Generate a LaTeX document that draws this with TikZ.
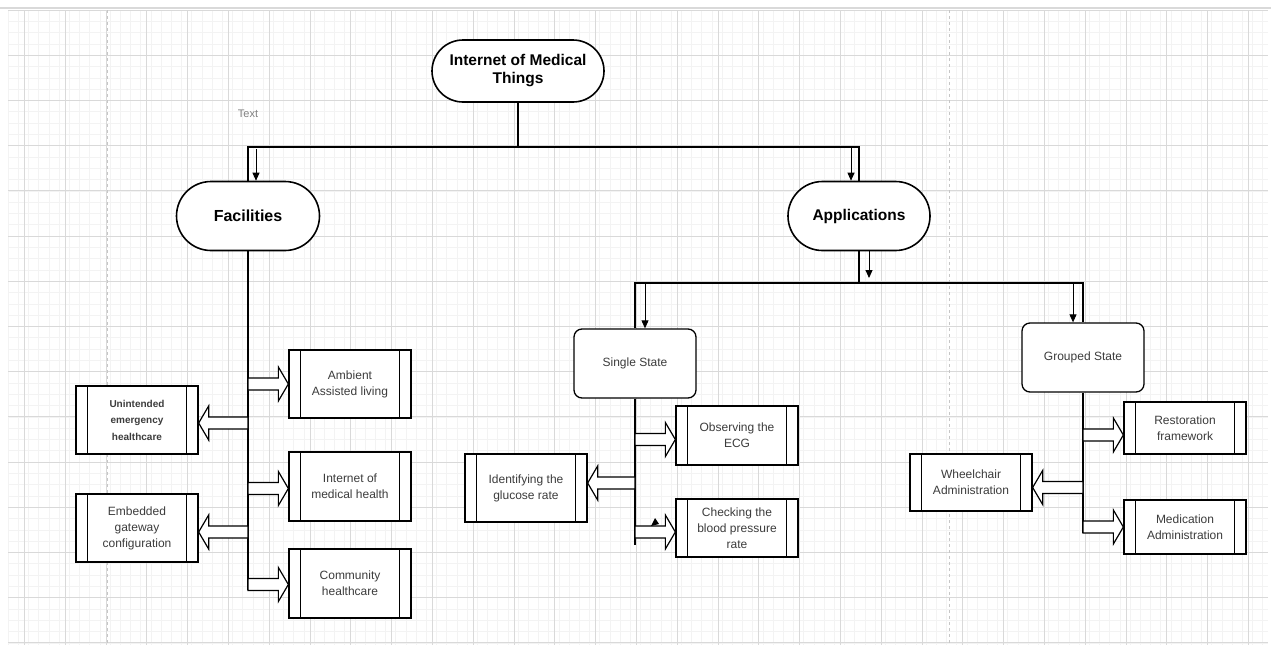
\documentclass[tikz,border=0pt]{standalone}
\usepackage{fontspec}
\setmainfont{Liberation Sans}
\usetikzlibrary{shapes.misc,arrows.meta,calc}

\definecolor{txtgray}{HTML}{3C3C3C}
\definecolor{majgrid}{HTML}{D9D9D9}
\definecolor{mingrid}{HTML}{F3F3F3}

\tikzset{
  pill/.style={draw, rounded rectangle, line width=1.6pt, fill=white, inner sep=0pt,
    font=\bfseries\fontsize{15.5}{18}\selectfont, align=center},
  statebox/.style={draw, rounded corners=8pt, line width=1.3pt, fill=white,
    minimum width=122pt, minimum height=69pt, inner sep=0pt,
    font=\fontsize{12}{16}\selectfont, text=txtgray, align=center},
  procbox/.style={draw, rectangle, line width=1.3pt, fill=white, minimum width=122pt,
    inner sep=0pt, font=\fontsize{12}{16}\selectfont, text=txtgray, align=center,
    path picture={
      \draw[line width=1.3pt] ([xshift=11.5pt]path picture bounding box.north west) -- ([xshift=11.5pt]path picture bounding box.south west)
        ([xshift=-11.5pt]path picture bounding box.north east) -- ([xshift=-11.5pt]path picture bounding box.south east);}},
  link/.style={draw, line width=1.2pt},
  tip/.style={draw, line width=0.9pt, -{Triangle[length=8pt,width=7pt]}},
  fatarr/.style={draw, line width=1.2pt, fill=white, line join=miter},
}

% block arrow from a trunk (its x) to a box side; optional shift of the arrow
\newcommand{\fatarrow}[3][0pt]{%
  \path[fatarr] let \p1=(#2), \p2=([yshift=#1]#3), \n1={10*sign(\x2-\x1)} in
    (\x1,{\y2+6pt}) -- ({\x2-(\n1)},{\y2+6pt}) -- ({\x2-(\n1)},{\y2+17pt}) -- (\x2,\y2)
    -- ({\x2-(\n1)},{\y2-17pt}) -- ({\x2-(\n1)},{\y2-6pt}) -- (\x1,{\y2-6pt}) -- cycle;}

\begin{document}
\begin{tikzpicture}[x=1pt,y=-1pt]
\useasboundingbox (0,0) rectangle (1271,646);
\fill[white] (0,0) rectangle (1271,646);

% grid
\foreach \i in {0,...,125} {\draw[mingrid, line width=0.5pt] ({8+10.2*\i},10) -- (\i*10.2+8,645);}
\foreach \j in {0,...,56} {\draw[mingrid, line width=0.5pt] (8,{10+11.3*\j}) -- (1268,{10+11.3*\j});}
\foreach \i in {0,...,30} {\draw[majgrid, line width=0.9pt] ({24.5+40.8*\i},10) -- ({24.5+40.8*\i},645);}
\foreach \j in {0,...,14} {\draw[majgrid, line width=0.9pt] (8,{10+45.2*\j}) -- (1268,{10+45.2*\j});}
\draw[majgrid, line width=2.5pt] (0,8) -- (1271,8);
\draw[gray!45, dashed, line width=0.8pt] (107,10) -- (107,645);
\draw[gray!45, dashed, line width=0.8pt] (949,10) -- (949,645);

% top level
\node[pill, minimum width=172pt, minimum height=62pt] (iomt) at (518,71) {Internet of Medical\\Things};
\node[font=\fontsize{11}{13}\selectfont, text=gray] (txt) at (248,114) {Text};
\node[pill, minimum width=143pt, minimum height=69pt, font=\bfseries\fontsize{16}{18}\selectfont] (fac) at (248,216) {Facilities};
\node[pill, minimum width=142pt, minimum height=69pt, font=\bfseries\fontsize{15.5}{18}\selectfont] (app) at (859,216) {Applications};

\coordinate (bus1) at (518,147);
\path[link] (iomt.south) -- (bus1);
\path[link] (fac.north) |- (bus1) -| (app.north);
\path[tip] ($(fac.north |- bus1)+(8,2)$) -- ($(fac.north)+(8,0)$);
\path[tip] ($(app.north |- bus1)+(-8,0)$) -- ($(app.north)+(-8,0)$);

% applications
\node[statebox] (single) at (635,363.5) {Single State};
\node[statebox] (grouped) at (1083,357.5) {Grouped State};

\coordinate (bus2) at (859,283);
\path[link] (app.south) -- (bus2);
\path[link, line width=1.8pt] (single.north) |- (bus2) -| (grouped.north);
\path[tip] ($(app.south)+(10,0)$) -- ($(bus2)+(10,-5)$);
\path[tip] ($(single.north |- bus2)+(10,0)$) -- ($(single.north)+(10,0)$);
\path[tip] ($(grouped.north |- bus2)+(-10,0)$) -- ($(grouped.north)+(-10,0)$);

% facilities boxes
\node[procbox, minimum height=68pt] (amb) at (350,384) {Ambient\\Assisted living};
\node[procbox, minimum height=68pt, font=\bfseries\fontsize{10}{16.5}\selectfont] (une) at (137,420) {Unintended\\emergency\\healthcare};
\node[procbox, minimum height=69pt] (imh) at (350,486.5) {Internet of\\medical health};
\node[procbox, minimum height=68pt] (egc) at (137,528) {Embedded\\gateway\\configuration};
\node[procbox, minimum height=69pt] (com) at (350,583.5) {Community\\healthcare};

% single state boxes
\node[procbox, minimum height=59pt] (ecg) at (737,435.5) {Observing the\\ECG};
\node[procbox, minimum height=68pt] (glu) at (526,488) {Identifying the\\glucose rate};
\node[procbox, minimum height=58pt] (bpr) at (737,528) {Checking the\\blood pressure\\rate};

% grouped state boxes
\node[procbox, minimum height=52pt] (res) at (1185,428) {Restoration\\framework};
\node[procbox, minimum height=57pt] (whl) at (971,482.5) {Wheelchair\\Administration};
\node[procbox, minimum height=54pt] (med) at (1185,527) {Medication\\Administration};

% trunks
\coordinate (factrunk) at (248,590);
\coordinate (sintrunk) at (635,545);
\coordinate (grptrunk) at (1083,533);
\path[link] (fac.south) -- (factrunk);
\path[link] (single.south) -- (sintrunk);
\path[link] (grouped.south) -- (grptrunk);

\fatarrow{factrunk}{amb.west}
\fatarrow[-3pt]{factrunk}{une.east}
\fatarrow[-2pt]{factrunk}{imh.west}
\fatarrow[-4pt]{factrunk}{egc.east}
\fatarrow[-1pt]{factrunk}{com.west}
\fatarrow[-4pt]{sintrunk}{ecg.west}
\fatarrow[5pt]{sintrunk}{glu.east}
\fatarrow[-4pt]{sintrunk}{bpr.west}
\fatarrow[-7pt]{grptrunk}{res.west}
\fatarrow[-5pt]{grptrunk}{whl.east}
\fatarrow{grptrunk}{med.west}
\fill (651,526) -- (655,518) -- (659,524) -- cycle;
\end{tikzpicture}
\end{document}
